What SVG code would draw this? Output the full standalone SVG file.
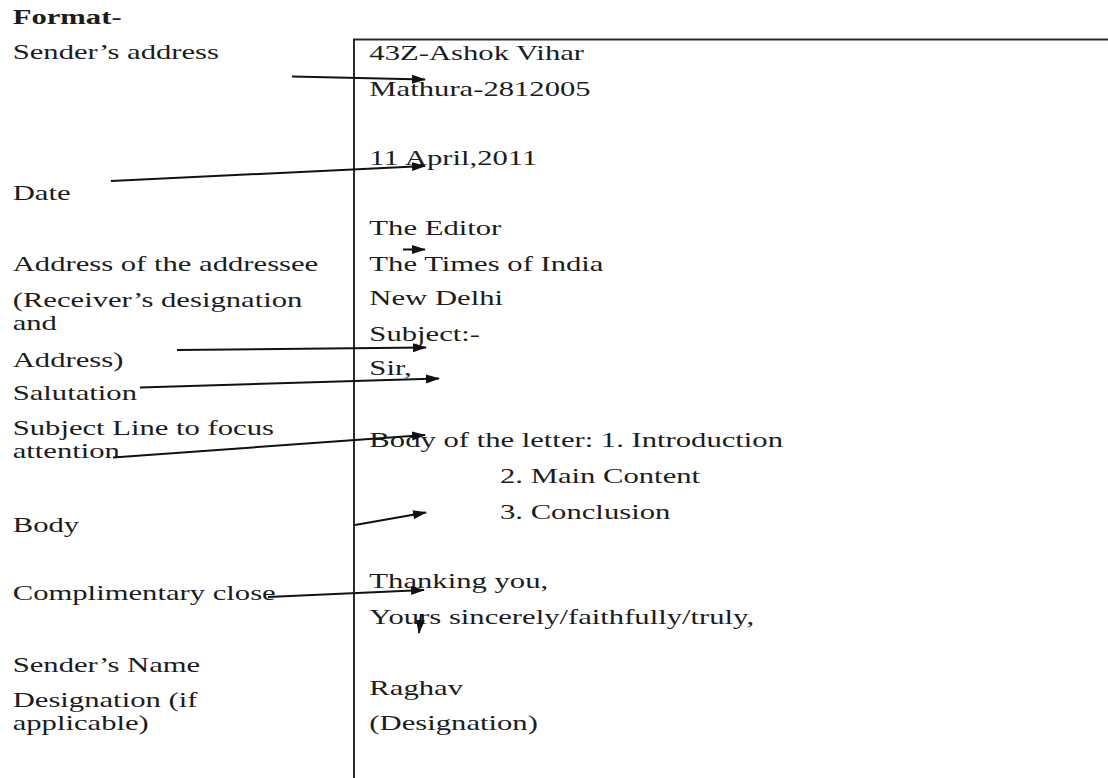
<svg xmlns="http://www.w3.org/2000/svg" width="1108" height="778" viewBox="0 0 1108 778">
<defs>
<style>
text{font-family:"Liberation Serif","Times New Roman",serif;font-size:21px;fill:#1c1c1c}
.b{font-weight:bold}
.frame{stroke:#2a2a2a;stroke-width:2;fill:none}
.arr{stroke:#111;stroke-width:2;fill:none;marker-end:url(#ah)}
</style>
<marker id="ah" markerUnits="userSpaceOnUse" markerWidth="14" markerHeight="10" refX="13" refY="4.5" orient="auto">
<path d="M0,0 L14,4.5 L0,9 z" fill="#111"/>
</marker>
</defs>
<rect width="1108" height="778" fill="#fff"/>
<g id="frame">
<path class="frame" d="M354,778 V39.5 H1108"/>
</g>
<g id="labels" transform="scale(1.46 1)">
<g id="title"><text class="b" x="8.7" y="24">Format-</text></g>
<g id="lbl-sender-address"><text x="8.7" y="59.5">Sender’s address</text></g>
<g id="lbl-date"><text x="8.7" y="200">Date</text></g>
<g id="lbl-addressee"><text x="8.7" y="271">Address of the addressee</text><text x="8.7" y="307">(Receiver’s designation</text><text x="8.7" y="330">and</text><text x="8.7" y="367">Address)</text></g>
<g id="lbl-salutation"><text x="8.7" y="400">Salutation</text></g>
<g id="lbl-subject"><text x="8.7" y="435">Subject Line to focus</text><text x="8.7" y="458.5">attention</text></g>
<g id="lbl-body"><text x="8.7" y="532">Body</text></g>
<g id="lbl-close"><text x="8.7" y="600">Complimentary close</text></g>
<g id="lbl-name"><text x="8.7" y="672">Sender’s Name</text></g>
<g id="lbl-designation"><text x="8.7" y="707">Designation (if</text><text x="8.7" y="730">applicable)</text></g>
</g>
<g id="letter" transform="scale(1.46 1)">
<g id="ltr-address"><text x="253" y="60.5">43Z-Ashok Vihar</text><text x="253" y="96">Mathura-2812005</text></g>
<g id="ltr-date"><text x="253" y="165.5">11 April,2011</text></g>
<g id="ltr-receiver"><text x="253" y="235">The Editor</text><text x="253" y="271">The Times of India</text><text x="253" y="305">New Delhi</text></g>
<g id="ltr-subject"><text x="253" y="341">Subject:-</text></g>
<g id="ltr-salutation"><text x="253" y="375.5">Sir,</text></g>
<g id="ltr-body"><text x="253" y="447">Body of the letter: 1. Introduction</text><text x="342.5" y="483.5">2. Main Content</text><text x="342.5" y="519.5">3. Conclusion</text></g>
<g id="ltr-close"><text x="253" y="588.5">Thanking you,</text><text x="253" y="624">Yours sincerely/faithfully/truly,</text></g>
<g id="ltr-name"><text x="253" y="695">Raghav</text><text x="253" y="730">(Designation)</text></g>
</g>
<g id="connectors">
<line class="arr" x1="292" y1="76.5" x2="425" y2="79.5"/>
<line class="arr" x1="111" y1="181" x2="425" y2="166"/>
<line class="arr" x1="403" y1="249.5" x2="425" y2="249.5"/>
<line class="arr" x1="177" y1="350" x2="426" y2="347.5"/>
<line class="arr" x1="140" y1="387.5" x2="439" y2="378.5"/>
<line class="arr" x1="113" y1="457.5" x2="425" y2="435"/>
<line class="arr" x1="355" y1="525" x2="426" y2="512.5"/>
<line class="arr" x1="268" y1="597" x2="424" y2="590"/>
<line class="arr" x1="421" y1="614" x2="419" y2="633"/>
</g>
</svg>
